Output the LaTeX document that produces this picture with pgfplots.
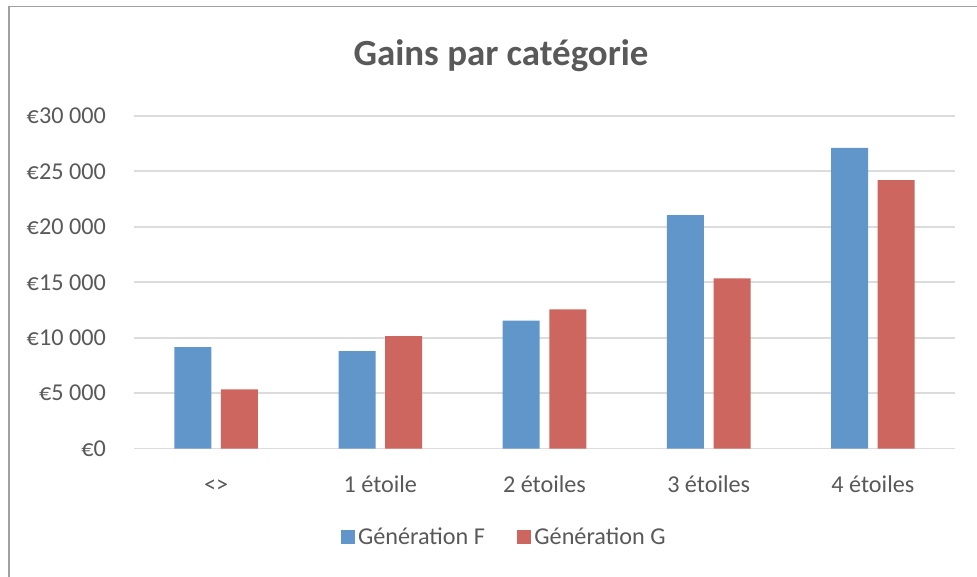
\documentclass[border=0pt]{standalone}
\usepackage{fontspec}
\setmainfont{Carlito}
\usepackage{pgfplots}
\pgfplotsset{compat=1.18}
\definecolor{barF}{RGB}{96,150,202}
\definecolor{barG}{RGB}{205,102,94}
\definecolor{txt}{RGB}{89,89,89}
\definecolor{gridc}{RGB}{220,220,220}
\definecolor{framec}{RGB}{160,160,160}
\begin{document}
\begin{tikzpicture}[x=1pt,y=1pt]
\path[use as bounding box] (0,0) rectangle (977,577);
\draw[framec, line width=1.5pt] (9,0) -- (9,570.5) -- (977,570.5);
\begin{axis}[
  at={(134pt,128.3pt)}, anchor=south west,
  scale only axis, width=821pt, height=332.9pt,
  xmin=-0.5, xmax=4.5, ymin=0, ymax=30000,
  ybar=9.6pt, bar width=37pt,
  axis line style={draw=none},
  scaled y ticks=false,
  xtick={0,1,2,3,4},
  xticklabels={<>, 1 étoile, 2 étoiles, 3 étoiles, 4 étoiles},
  ytick={0,5000,10000,15000,20000,25000,30000},
  yticklabels={€0, €5 000, €10 000, €15 000, €20 000, €25 000, €30 000},
  xtick style={draw=none}, ytick style={draw=none},
  xmajorgrids=false,
  ymajorgrids, grid style={draw=gridc, line width=1.6pt},
  tick label style={font=\fontsize{24.2pt}{29pt}\selectfont, text=txt},
  yticklabel style={inner sep=0pt, anchor=east, xshift=-28pt},
  xticklabel style={inner sep=0pt, anchor=base, yshift=-40pt},
  legend columns=2,
  legend style={draw=none, fill=none, at={(axis description cs:0.4507,-0.265)}, anchor=center,
    font=\fontsize{24.2pt}{29pt}\selectfont, text=txt,
    /tikz/every even column/.append style={column sep=30pt},
    /tikz/every odd column/.append style={column sep=1.5pt},
    legend cell align=left, inner sep=0pt},
  legend image code/.code={\fill[#1] (0pt,-7pt) rectangle (14pt,7pt);},
]
\addplot[fill=barF, draw=none] coordinates {(0,9150) (1,8800) (2,11530) (3,21050) (4,27100)};
\addplot[fill=barG, draw=none] coordinates {(0,5350) (1,10150) (2,12560) (3,15350) (4,24200)};
\legend{Génération F, Génération G}
\end{axis}
\node[font=\fontsize{36.9pt}{42pt}\selectfont\bfseries, text=txt] at (501,521) {Gains par catégorie};
\end{tikzpicture}
\end{document}
